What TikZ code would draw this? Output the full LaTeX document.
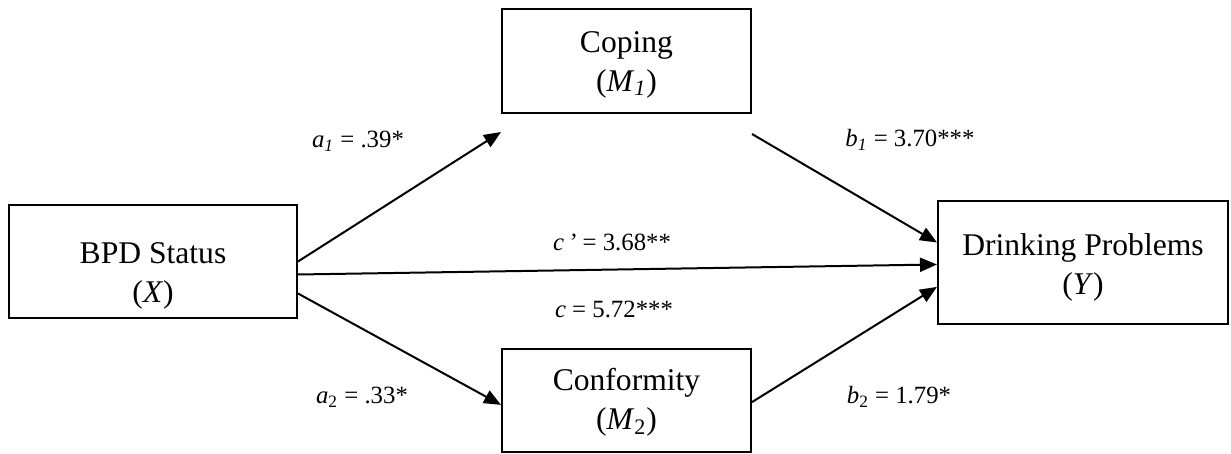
\documentclass[tikz,border=0pt]{standalone}
\usepackage{fontspec}
\setmainfont{Liberation Serif}
\usepackage{tikz}
\usetikzlibrary{positioning,arrows.meta,calc}
\tikzstyle{arrow}=[-{Triangle[length=8.5pt,width=7pt]}, line width=1pt]
\tikzstyle{varbox}=[draw, line width=1pt, inner sep=0pt,
  font=\fontsize{15.8}{19.5}\selectfont]
\tikzstyle{coef}=[inner sep=0pt, font=\fontsize{12.4}{14}\selectfont]
% two centred lines in a box, dropped by #1
\newcommand{\boxlines}[3]{\raisebox{#1}[\height][\depth]{\begin{tabular}{@{}c@{}}#2\\#3\end{tabular}}}

\begin{document}
\begin{tikzpicture}[x=0.5pt,y=-0.5pt]
	  \useasboundingbox (0,0) rectangle (1231,454);

	  % variables
	  \node[varbox, minimum width=124.5pt, minimum height=52pt] (coping) at (626.5,61)
	    {\boxlines{-1.5pt}{Coping}{(\textit{M}\textsubscript{\textit{1}})}};
	  \node[varbox, minimum width=144pt, minimum height=56.5pt] (bpd) at (153,261.5)
	    {\boxlines{-6.7pt}{BPD Status}{(\textit{X})}};
	  \node[varbox, minimum width=124.5pt, minimum height=51.5pt] (conformity) at (626.5,400.5)
	    {\boxlines{-0.8pt}{Conformity}{(\textit{M}\textsubscript{2})}};
	  \node[varbox, minimum width=145pt, minimum height=61.5pt] (drinking) at (1083,262.5)
	    {\boxlines{-2.5pt}{Drinking Problems}{(\textit{Y})}};

	  % paths
	  \draw[arrow] (bpd.east) -- ([yshift=-9pt]coping.south west);
	  \draw[arrow] ([yshift=-6.5pt]bpd.east) -- ([yshift=-1pt]drinking.west);
	  \draw[arrow] ([yshift=-16pt]bpd.east) -- ([yshift=-2.2pt]conformity.west);
	  \draw[arrow] ([yshift=-10pt]coping.south east) -- ([yshift=10pt]drinking.west);
	  \draw[arrow] ([yshift=-0.8pt]conformity.east) -- ([yshift=-12.2pt]drinking.west);

	  % coefficients
	  \node[coef] (a1) at (358,141) {\textit{a}\textsubscript{\textit{1}} = .39*};
	  \node[coef] (a2) at (362,397) {\textit{a}\textsubscript{2} = .33*};
	  \node[coef] (b1) at (910,140) {\textit{b}\textsubscript{\textit{1}} = 3.70***};
	  \node[coef] (b2) at (899,397) {\textit{b}\textsubscript{2} = 1.79*};
	  \node[coef] (cprime) at (612,242) {\textit{c\,’} = 3.68**};
	  \node[coef] (ctotal) at (614,309) {\textit{c} = 5.72***};
	\end{tikzpicture}
\end{document}
